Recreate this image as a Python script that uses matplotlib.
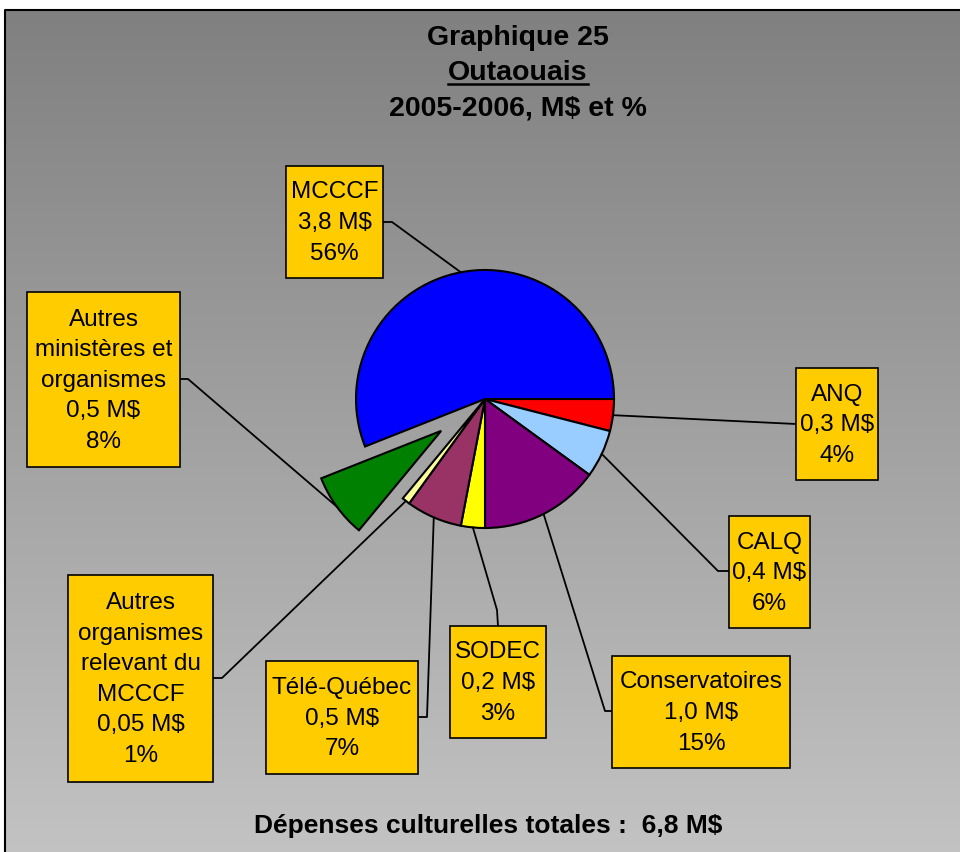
import numpy as np
import matplotlib.pyplot as plt
from matplotlib.patches import Rectangle

# ----------------------------
# data (clockwise from 3 o'clock)
# ----------------------------
names = ["ANQ", "CALQ", "Conservatoires", "SODEC", "Télé-Québec",
         "Autres\norganismes\nrelevant du\nMCCCF", "Autres\nministères et\norganismes", "MCCCF"]
amounts = ["0,3", "0,4", "1,0", "0,2", "0,5", "0,05", "0,5", "3,8"]
shares = [4, 6, 15, 3, 7, 1, 8, 56]
colors = ["#FF0000", "#99CCFF", "#800080", "#FFFF00", "#993366", "#FFFF99", "#008000", "#0000FF"]
explode = [0, 0, 0, 0, 0, 0, 0.42, 0]

title_lines = ["Graphique 25", "Outaouais", "2005-2006, M$ et %"]
total_text = "Dépenses culturelles totales :  6,8 M$"

# ----------------------------
# layout in pixel coords (y goes down)
# box = (x0, y0, x1, y1), path = elbow points then box attach point
# ----------------------------
boxes = [
    (796, 368, 878, 480),
    (729, 516, 810, 628),
    (612, 656, 790, 768),
    (450, 626, 546, 738),
    (266, 661, 418, 774),
    (68, 575, 213, 782),
    (27, 292, 180, 467),
    (286, 166, 383, 278),
]
paths = [
    [(796, 424)],
    [(718, 571), (729, 571)],
    [(605, 711), (612, 711)],
    [(497, 610), (498, 626)],
    [(427, 717), (418, 717)],
    [(222, 678), (213, 678)],
    [(188, 379), (180, 379)],
    [(392, 222), (383, 222)],
]

W, H = 960, 852
R = 129
fig = plt.figure(figsize=(W / 100, H / 100), dpi=100)
fig.patch.set_facecolor("white")
ax = fig.add_axes([0, 0, 1, 1])

# gradient background + frame
grad = np.linspace(128, 195, 256).reshape(-1, 1) / 255.0
ax.imshow(np.dstack([grad, grad, grad]), extent=(5, W + 5, H + 5, 10),
          aspect="auto", zorder=0)
ax.plot([5, 5, W + 5], [H + 5, 10, 10], color="black", lw=1.5, zorder=1)

# pie (y axis inverted, so counterclock=True looks clockwise)
# pie's explode is in data units, so scale it by the radius
wedges, _ = ax.pie(shares, colors=colors, explode=[e * R for e in explode],
                   startangle=0, counterclock=True, center=(485, 399), radius=R,
                   wedgeprops=dict(edgecolor="black", linewidth=1.5), frame=True)

ax.set_xlim(0, W)
ax.set_ylim(H, 0)
ax.set_aspect("equal")
ax.axis("off")

font = "Liberation Sans"

for w, name, amt, pct, box, path in zip(wedges, names, amounts, shares, boxes, paths):
    mid = np.deg2rad((w.theta1 + w.theta2) / 2)
    cx, cy = w.center
    anchor = (cx + w.r * np.cos(mid), cy + w.r * np.sin(mid))
    pts = [anchor] + path
    ax.plot([p[0] for p in pts], [p[1] for p in pts], color="black", lw=1.3, zorder=3)

    x0, y0, x1, y1 = box
    ax.add_patch(Rectangle((x0, y0), x1 - x0, y1 - y0, facecolor="#FFCC00",
                           edgecolor="black", lw=1.2, zorder=4))
    ax.text((x0 + x1) / 2, (y0 + y1) / 2 + 1, f"{name}\n{amt} M$\n{pct}%",
            ha="center", va="center", fontsize=17.5, family=font,
            linespacing=1.5, zorder=5)

# titles
title_y = [38, 73, 108]
for t, y in zip(title_lines, title_y):
    ax.text(518, y, t, ha="center", va="center", fontsize=20.5,
            fontweight="bold", family=font, zorder=5)

ax.text(488, 826, total_text, ha="center", va="center", fontsize=19,
        fontweight="bold", family=font, zorder=5)

# underline "Outaouais"
fig.canvas.draw()
txt = [t for t in ax.texts if t.get_text() == "Outaouais"][0]
bb = txt.get_window_extent().transformed(ax.transData.inverted())
ax.plot([bb.x0, bb.x1], [84, 84], color="black", lw=1.8, zorder=5)

plt.savefig("out.png", dpi=100)
